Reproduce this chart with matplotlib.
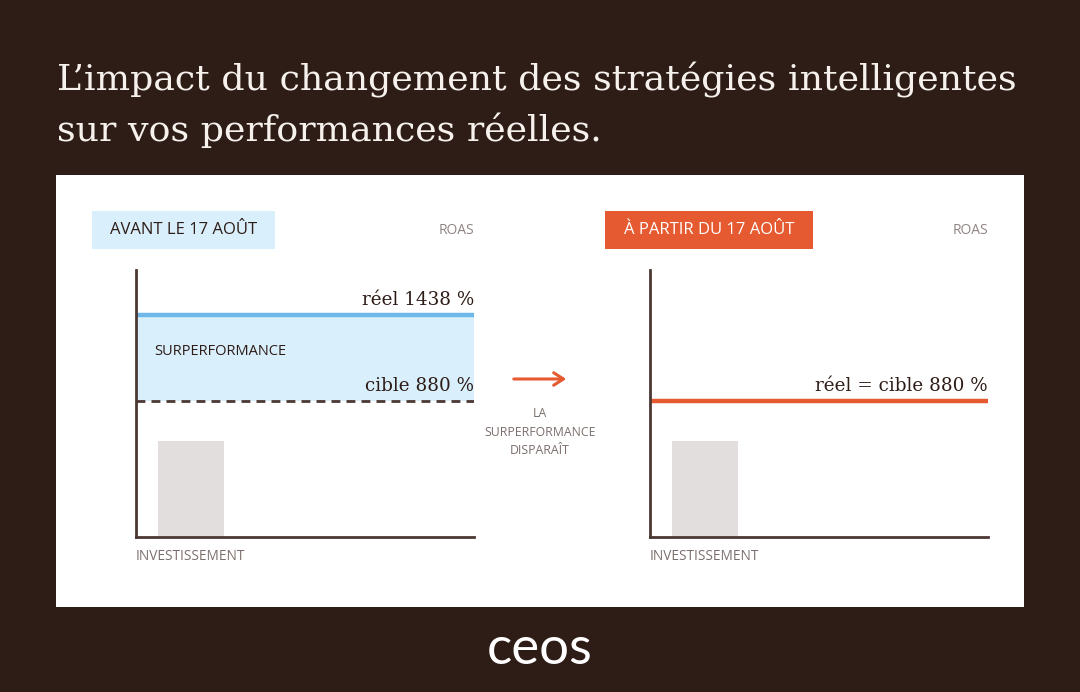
import matplotlib
matplotlib.use("Agg")
import matplotlib.pyplot as plt
from matplotlib.patches import Rectangle, FancyArrowPatch

# ---- data ----
title_lines = ["L\u2019impact du changement des stratégies intelligentes",
               "sur vos performances réelles."]
panel_labels = ["AVANT LE 17 AOÛT", "À PARTIR DU 17 AOÛT"]
y_label = "ROAS"
x_label = "INVESTISSEMENT"
roas_reel_avant = 1438
roas_cible = 880
roas_reel_apres = 880
investissement = [620]
bar_pos = [0.163]
label_reel_avant = "réel 1438 %"
label_cible_avant = "cible 880 %"
label_apres = "réel = cible 880 %"
surperf_label = "SURPERFORMANCE"
middle_text = "LA\nSURPERFORMANCE\nDISPARAÎT"
logo = "ceos"

# ---- style ----
W, H = 1080, 692
BG = "#2e1c17"
PANEL = "#ffffff"
DARK = "#2e1c17"
AXC = "#4b3833"
GRAY = "#8f8482"
GRAY2 = "#7a6e6b"
BLUE_FILL = "#d9effb"
BLUE = "#6db8e8"
ORANGE = "#e55a30"
BARC = "#e2dedd"
SERIF = ["DejaVu Serif"]
SANS = ["Open Sans", "DejaVu Sans"]
YMAX = 1729

fig = plt.figure(figsize=(W / 100, H / 100), dpi=100, facecolor=BG)

def fx(px):
    return px / W

def fy(py):
    return 1 - py / H

# white panel (behind everything)
fig.patches.append(Rectangle((fx(56), fy(607)), fx(1024) - fx(56), fy(175) - fy(607),
                             transform=fig.transFigure, facecolor=PANEL, edgecolor="none", zorder=-5))

# title
fig.text(fx(57), fy(90), title_lines[0], family=SERIF, fontsize=26.2, color="#f6f1ec", va="baseline")
fig.text(fx(57), fy(141), title_lines[1], family=SERIF, fontsize=26.2, color="#f6f1ec", va="baseline")

def make_axes(x0, x1):
    ax = fig.add_axes([fx(x0), fy(537), fx(x1) - fx(x0), fy(270) - fy(537)])
    ax.set_zorder(2)
    ax.set_xlim(0, 1)
    ax.set_ylim(0, YMAX)
    ax.patch.set_visible(False)
    for s in ["top", "right"]:
        ax.spines[s].set_visible(False)
    for s in ["left", "bottom"]:
        ax.spines[s].set_color(AXC)
        ax.spines[s].set_linewidth(2)
        ax.spines[s].set_zorder(5)
    ax.set_xticks([])
    ax.set_yticks([])
    ax.bar(bar_pos, investissement, width=0.195, color=BARC, zorder=1)
    return ax

# left panel
axL = make_axes(136, 474)
axL.fill_between([0, 1], roas_cible, roas_reel_avant, color=BLUE_FILL, lw=0, zorder=0)
axL.axhline(roas_reel_avant, color=BLUE, lw=3.2, zorder=3)
axL.axhline(roas_cible, color=AXC, lw=2, ls=(0, (3.2, 2.2)), zorder=3)
axL.text(1, roas_reel_avant + 65, label_reel_avant, ha="right", va="baseline",
         family=SERIF, fontsize=13.2, color=DARK)
axL.text(1, roas_cible + 65, label_cible_avant, ha="right", va="baseline",
         family=SERIF, fontsize=13.2, color=DARK)
axL.text(0.053, (roas_cible + roas_reel_avant) / 2 + 45, surperf_label, ha="left", va="center",
         family=SANS, fontsize=10.5, color=DARK, weight="medium")

# right panel
axR = make_axes(650, 988)
axR.axhline(roas_reel_apres, color=ORANGE, lw=3.2, zorder=3)
axR.text(1, roas_reel_apres + 65, label_apres, ha="right", va="baseline",
         family=SERIF, fontsize=13.2, color=DARK)

# header boxes
fig.patches.append(Rectangle((fx(92), fy(249)), fx(275) - fx(92), fy(211) - fy(249),
                             transform=fig.transFigure, facecolor=BLUE_FILL, edgecolor="none"))
fig.text(fx(183.5), fy(230), panel_labels[0], ha="center", va="center",
         family=SANS, fontsize=12, color=DARK, weight="medium")
fig.patches.append(Rectangle((fx(605), fy(249)), fx(813) - fx(605), fy(211) - fy(249),
                             transform=fig.transFigure, facecolor=ORANGE, edgecolor="none"))
fig.text(fx(709), fy(230), panel_labels[1], ha="center", va="center",
         family=SANS, fontsize=12, color="white", weight="medium")

for xr in (474, 988):
    fig.text(fx(xr), fy(230), y_label, ha="right", va="center",
             family=SANS, fontsize=10, color=GRAY)
for xl in (136, 650):
    fig.text(fx(xl), fy(556), x_label, ha="left", va="center",
             family=SANS, fontsize=9.8, color=GRAY2)

# middle arrow and text
arr = FancyArrowPatch((fx(511), fy(379)), (fx(569), fy(379)), transform=fig.transFigure,
                      arrowstyle="->,head_length=7,head_width=4.5", color=ORANGE, lw=2.2,
                      mutation_scale=1)
fig.patches.append(arr)
fig.text(fx(540), fy(432), middle_text, ha="center", va="center",
         family=SANS, fontsize=8.8, color=GRAY2, linespacing=1.55)

# logo
fig.text(fx(540), fy(650), logo, ha="center", va="center", family=["Lato", "DejaVu Sans"],
         fontsize=38, color="white")

fig.savefig("out.png", dpi=100, facecolor=BG)
